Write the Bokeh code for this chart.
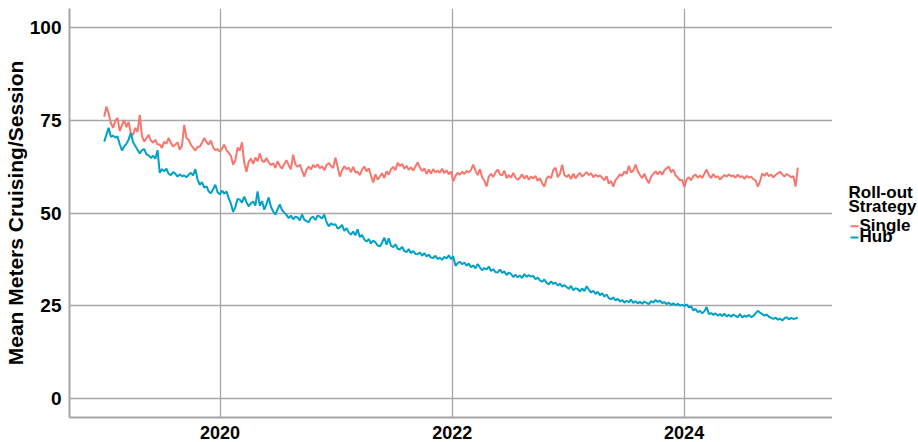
import pandas as pd
from bokeh.plotting import figure
from bokeh.layouts import row
from bokeh.models import (FixedTicker, DatetimeTickFormatter, Range1d, ColumnDataSource)
from bokeh.core.properties import value
from bokeh.embed import file_html
from bokeh.resources import INLINE

start_date = "2019-01-01"
series_names = ["Single", "Hub"]
series_colors = ["#F8766D", "#00A1C9"]
legend_title = ["Roll-out", "Strategy"]
year_ticks = ["2020-01-01", "2022-01-01", "2024-01-01"]
y_ticks = [0, 25, 50, 75, 100]

single_2019 = [75.9, 78.6, 76.8, 74.2, 72.9, 74.8, 75.6, 72.0, 73.6, 75.0, 73.1, 74.5, 71.2, 71.0,
               72.9, 71.8, 76.4, 70.6, 69.2, 70.1, 71.0, 69.5, 68.9, 69.7, 68.4, 68.4, 67.5, 69.2,
               68.6, 70.2, 68.8, 67.9, 68.4, 69.0, 67.0, 68.1, 73.7, 70.2, 69.7, 68.3, 67.6, 66.8,
               67.8, 67.8, 68.9, 70.2, 69.1, 68.4, 69.5, 67.6, 66.9, 67.2]
single_2020 = [66.5, 67.3, 68.4, 66.9, 66.2, 65.4, 63.0, 64.2, 67.6, 66.8, 69.0, 63.5, 61.1, 63.8,
               64.6, 63.2, 64.9, 63.9, 66.0, 64.1, 63.7, 64.8, 63.6, 62.9, 63.4, 62.1, 63.9, 62.7,
               61.9, 63.2, 64.2, 62.8, 61.8, 65.7, 63.1, 62.4, 63.0, 61.4, 59.8, 61.6, 62.5, 61.7,
               62.9, 62.3, 63.1, 62.0, 62.6, 61.5, 62.8, 63.5, 62.7, 62.1]
single_2021 = [64.9, 62.4, 59.8, 61.5, 62.6, 61.8, 62.2, 61.0, 62.4, 60.9, 61.1, 60.2, 61.7, 62.5,
               61.2, 62.0, 60.1, 58.2, 60.4, 59.0, 59.8, 60.7, 59.4, 61.2, 60.3, 61.8, 62.4, 61.5,
               63.5, 62.6, 63.2, 61.9, 62.7, 61.6, 62.3, 61.4, 62.5, 63.6, 62.2, 61.3, 62.0, 60.5,
               61.7, 60.6, 61.8, 60.9, 61.4, 60.8, 61.9, 60.7, 61.5, 60.4]
single_2022 = [61.2, 58.5, 60.0, 60.8, 60.3, 61.1, 60.5, 61.3, 60.9, 61.6, 63.0, 61.4, 60.2, 61.8,
               59.6, 58.7, 57.1, 59.8, 60.5, 59.7, 60.9, 61.7, 60.4, 60.1, 61.4, 59.4, 60.2, 59.5,
               60.8, 59.6, 58.9, 59.5, 60.4, 59.2, 60.1, 59.0, 59.8, 59.3, 60.0, 58.6, 59.4, 58.0,
               57.1, 59.3, 59.9, 59.4, 61.5, 62.2, 59.6, 60.5, 63.0, 60.2]
single_2023 = [59.7, 60.3, 59.1, 60.6, 59.3, 60.1, 60.8, 59.8, 60.4, 61.0, 60.2, 60.7, 59.6, 60.3,
               59.8, 60.1, 59.5, 58.8, 59.9, 57.9, 58.6, 57.1, 58.9, 59.5, 60.4, 60.0, 61.2, 60.5,
               62.7, 60.9, 61.4, 63.0, 61.3, 60.2, 59.4, 60.6, 59.0, 58.0, 59.8, 60.5, 61.2, 60.4,
               61.2, 60.3, 61.5, 62.0, 62.5, 60.9, 61.7, 60.1, 59.6, 58.8]
single_2024 = [58.9, 57.0, 59.1, 59.6, 58.8, 59.9, 60.3, 59.5, 60.1, 59.4, 60.6, 61.7, 60.2, 59.4,
               60.5, 59.6, 59.9, 59.0, 59.6, 60.2, 59.8, 60.4, 59.9, 60.1, 59.5, 60.3, 59.7, 59.9,
               59.2, 60.0, 59.5, 59.8, 59.1, 58.8, 57.1, 58.5, 60.6, 60.0, 60.8, 59.9, 60.3, 59.6,
               60.2, 60.7, 61.1, 60.4, 59.8, 60.5, 60.1, 59.6, 59.9, 57.1, 62.2]

hub_2019 = [69.2, 71.0, 72.9, 70.5, 70.8, 70.3, 70.6, 68.5, 66.8, 67.9, 68.6, 69.8, 71.5, 69.0,
            68.0, 67.0, 66.0, 66.9, 67.2, 65.8, 65.5, 64.8, 65.4, 64.6, 66.9, 60.8, 61.8, 61.2,
            61.9, 60.5, 60.2, 61.0, 60.6, 59.8, 60.4, 59.9, 60.1, 59.6, 60.3, 60.8, 60.1, 61.8,
            59.0, 57.6, 58.3, 56.8, 57.2, 55.8, 55.3, 56.4, 57.6, 55.6]
hub_2020 = [55.0, 56.0, 55.2, 55.8, 54.0, 52.5, 50.3, 51.6, 53.8, 53.6, 52.8, 54.4, 52.9, 51.8,
            52.6, 53.1, 52.0, 55.8, 51.9, 53.2, 50.9, 52.4, 54.2, 51.7, 50.4, 49.6, 51.0, 52.3,
            50.8, 50.1, 49.5, 48.6, 49.3, 48.3, 49.0, 48.8, 48.0, 49.6, 48.2, 47.8, 47.5, 48.7,
            49.0, 48.1, 49.3, 49.0, 48.5, 49.6, 47.6, 46.4, 47.2, 46.8]
hub_2021 = [47.0, 45.8, 46.1, 46.8, 45.2, 45.9, 44.8, 44.2, 45.0, 44.0, 45.6, 43.5, 44.1, 42.9,
            42.3, 43.0, 41.8, 42.6, 42.1, 41.3, 41.0, 42.0, 43.4, 41.5, 43.2, 41.2, 40.8, 41.6,
            40.4, 40.2, 40.9, 39.8, 39.5, 40.3, 39.2, 39.8, 39.0, 38.9, 39.4, 38.5, 39.2, 38.3,
            38.8, 38.0, 37.9, 38.5, 37.6, 38.0, 37.4, 38.2, 37.8, 38.6]
hub_2022 = [37.6, 38.4, 35.8, 36.5, 36.9, 36.2, 36.7, 35.8, 36.4, 35.4, 35.9, 35.1, 36.3, 35.4,
            34.6, 35.2, 34.8, 35.6, 34.4, 34.9, 34.1, 34.0, 34.8, 33.9, 34.3, 33.3, 34.0, 33.6,
            32.8, 33.4, 32.7, 33.2, 32.5, 33.6, 32.8, 33.3, 32.9, 33.1, 32.2, 32.6, 31.9, 31.5,
            32.1, 31.2, 30.8, 31.6, 30.9, 31.3, 30.5, 31.0, 30.2, 30.6]
hub_2023 = [30.1, 29.6, 30.4, 29.2, 29.8, 29.5, 28.9, 29.7, 29.0, 30.3, 29.4, 28.6, 29.1, 28.2,
            28.8, 27.9, 28.4, 27.5, 28.1, 27.1, 26.8, 27.3, 26.5, 26.9, 26.2, 26.6, 25.9, 26.4,
            26.0, 26.7, 25.8, 26.3, 25.7, 26.1, 25.6, 26.2, 25.8, 25.5, 26.3, 25.9, 26.6, 26.1,
            26.4, 25.8, 26.0, 25.5, 25.9, 25.3, 25.7, 25.2, 25.6, 25.1]
hub_2024 = [25.3, 25.0, 25.4, 24.6, 24.9, 23.8, 24.2, 23.3, 23.7, 23.0, 23.6, 24.7, 22.8, 23.1,
            22.6, 23.0, 22.4, 22.8, 22.3, 22.9, 22.2, 22.6, 22.1, 22.7, 22.3, 22.0, 22.8, 21.9,
            22.4, 22.1, 22.6, 22.0, 22.3, 23.0, 23.7, 23.2, 22.8, 22.4, 22.7, 22.1, 21.8, 21.5,
            21.9, 21.3, 21.6, 21.1, 21.7, 22.0, 21.4, 21.8, 21.5, 21.6, 21.9]

single = single_2019 + single_2020 + single_2021 + single_2022 + single_2023 + single_2024
hub = hub_2019 + hub_2020 + hub_2021 + hub_2022 + hub_2023 + hub_2024
n = min(len(single), len(hub))
dates = pd.date_range(start_date, periods=n, freq="7D")

src = ColumnDataSource(dict(date=dates, single=single[:n], hub=hub[:n]))

span = dates[-1] - dates[0]
x_start = dates[0] - span * 0.05
x_end = dates[-1] + span * 0.05

FONT = "Liberation Sans"
GRID = "#a6a6a6"
FIG_H = 437

p = figure(frame_width=763, frame_height=409, output_backend="svg", toolbar_location=None,
           x_axis_type="datetime",
           x_range=Range1d(x_start, x_end), y_range=Range1d(-5, 105),
           min_border_left=61, min_border_right=0, min_border_top=8, min_border_bottom=20)
p.outline_line_color = None
p.background_fill_color = "white"

p.line("date", "single", source=src, line_color=series_colors[0], line_width=2)
p.line("date", "hub", source=src, line_color=series_colors[1], line_width=2)

p.xaxis.ticker = FixedTicker(ticks=[pd.Timestamp(t).value // 10**6 for t in year_ticks])
p.xaxis.formatter = DatetimeTickFormatter(years="%Y", months="%Y", days="%Y")
p.yaxis.ticker = FixedTicker(ticks=y_ticks)

for ax in (p.xaxis[0], p.yaxis[0]):
    ax.major_tick_line_color = None
    ax.minor_tick_line_color = None
    ax.axis_line_color = GRID
    ax.axis_line_width = 2
    ax.major_label_text_font = FONT
    ax.major_label_text_font_style = "bold"
    ax.major_label_text_font_size = "18px"
    ax.major_label_text_color = "black"
    ax.major_label_standoff = 2

p.yaxis.major_label_text_font_size = "19px"

p.yaxis.axis_label = "Mean Meters Cruising/Session"
p.yaxis.axis_label_text_font = FONT
p.yaxis.axis_label_text_font_style = "bold"
p.yaxis.axis_label_text_font_size = "21px"
p.yaxis.axis_label_text_color = "black"
p.yaxis.axis_label_standoff = 0

p.xgrid.grid_line_color = GRID
p.ygrid.grid_line_color = GRID
p.xgrid.grid_line_width = 1.3
p.ygrid.grid_line_width = 1.3
p.xgrid.minor_grid_line_color = None
p.ygrid.minor_grid_line_color = None

# Legend panel (pixel coordinates, measured from its bottom-left)
LW = 86
lg = figure(width=LW, height=FIG_H, output_backend="svg", toolbar_location=None,
            x_range=Range1d(0, LW), y_range=Range1d(0, FIG_H),
            x_axis_location=None, y_axis_location=None,
            min_border_left=0, min_border_right=0, min_border_top=0, min_border_bottom=0)
lg.outline_line_color = None
lg.xgrid.visible = False
lg.ygrid.visible = False

lg.text(x=[16, 16], y=[FIG_H - 198, FIG_H - 214], text=legend_title,
        text_font=value(FONT), text_font_style="bold", text_font_size="17px",
        text_color="black", text_baseline="alphabetic", text_align="left")
lg.text(x=[27, 27], y=[FIG_H - 234, FIG_H - 246], text=series_names,
        text_font=value(FONT), text_font_style="bold", text_font_size="17px",
        text_color="black", text_baseline="alphabetic", text_align="left")
lg.segment(x0=[18, 18], y0=[FIG_H - 235, FIG_H - 247], x1=[26, 26], y1=[FIG_H - 235, FIG_H - 247],
           line_color=series_colors, line_width=2)

layout = row(p, lg)
open("out.html", "w").write(file_html(layout, INLINE))
